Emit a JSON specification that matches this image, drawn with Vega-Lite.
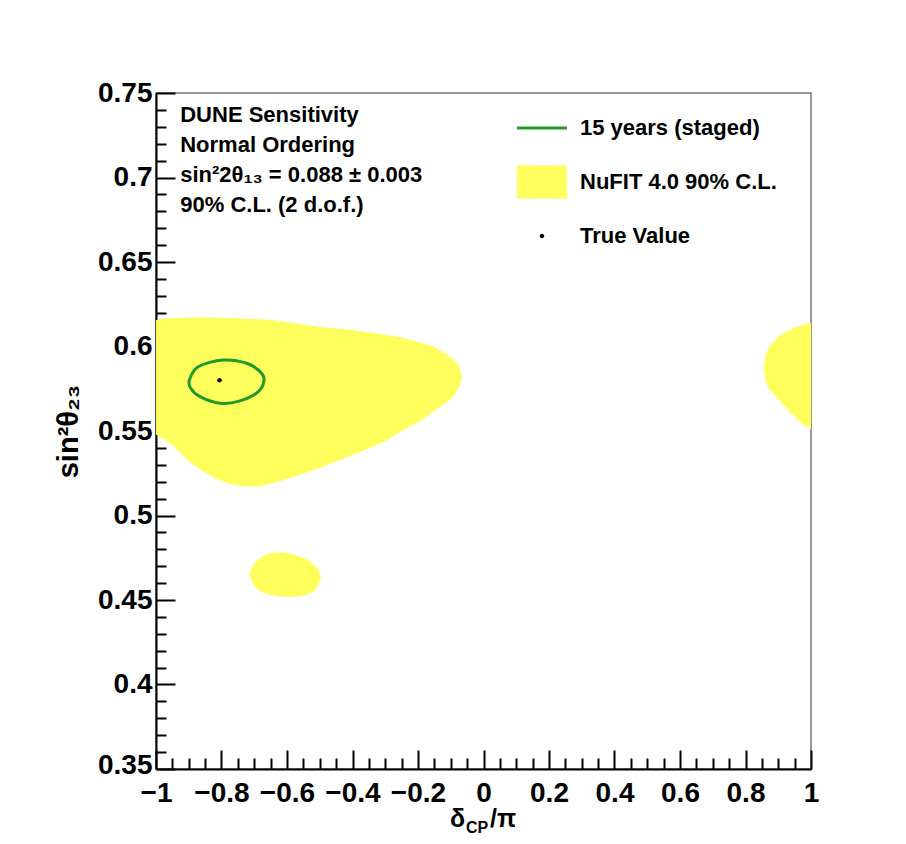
{
  "$schema": "https://vega.github.io/schema/vega-lite/v6.json",
  "width": 655,
  "height": 676,
  "autosize": {"type": "none"},
  "padding": {"left": 156, "top": 93, "right": 95, "bottom": 75},
  "background": "white",
  "config": {
    "font": "Liberation Sans",
    "view": {"stroke": "#777777", "strokeWidth": 1.5},
    "axis": {
      "domainColor": "black",
      "domainWidth": 2,
      "tickColor": "black",
      "tickWidth": 2,
      "labelColor": "black",
      "labelFont": "Liberation Sans",
      "labelFontWeight": "bold",
      "labelFontSize": 28,
      "labelOverlap": false,
      "labelFlush": false,
      "labelBound": false,
      "grid": false,
      "titleColor": "black",
      "titleFont": "Liberation Sans",
      "titleFontWeight": "bold"
    }
  },
  "datasets": {
    "regions": [
      {"region": "A", "dcp": -1.0, "top": 0.6157, "bottom": 0.548},
      {"region": "A", "dcp": -0.95, "top": 0.6168, "bottom": 0.5417},
      {"region": "A", "dcp": -0.9, "top": 0.6171, "bottom": 0.5322},
      {"region": "A", "dcp": -0.85, "top": 0.6172, "bottom": 0.5255},
      {"region": "A", "dcp": -0.8, "top": 0.617, "bottom": 0.5204},
      {"region": "A", "dcp": -0.75, "top": 0.6167, "bottom": 0.5177},
      {"region": "A", "dcp": -0.7, "top": 0.6162, "bottom": 0.5172},
      {"region": "A", "dcp": -0.65, "top": 0.6157, "bottom": 0.5188},
      {"region": "A", "dcp": -0.6, "top": 0.6145, "bottom": 0.5216},
      {"region": "A", "dcp": -0.55, "top": 0.613, "bottom": 0.5248},
      {"region": "A", "dcp": -0.5, "top": 0.6117, "bottom": 0.5281},
      {"region": "A", "dcp": -0.45, "top": 0.6106, "bottom": 0.532},
      {"region": "A", "dcp": -0.4, "top": 0.6096, "bottom": 0.5358},
      {"region": "A", "dcp": -0.35, "top": 0.6083, "bottom": 0.5398},
      {"region": "A", "dcp": -0.3, "top": 0.607, "bottom": 0.5441},
      {"region": "A", "dcp": -0.25, "top": 0.6053, "bottom": 0.55},
      {"region": "A", "dcp": -0.2, "top": 0.6025, "bottom": 0.5552},
      {"region": "A", "dcp": -0.15, "top": 0.5997, "bottom": 0.562},
      {"region": "A", "dcp": -0.12, "top": 0.5962, "bottom": 0.566},
      {"region": "A", "dcp": -0.1, "top": 0.5938, "bottom": 0.569},
      {"region": "A", "dcp": -0.085, "top": 0.5908, "bottom": 0.5725},
      {"region": "A", "dcp": -0.075, "top": 0.5884, "bottom": 0.576},
      {"region": "A", "dcp": -0.069, "top": 0.5849, "bottom": 0.579},
      {"region": "A", "dcp": -0.066, "top": 0.5818, "bottom": 0.5816},
      {"region": "B", "dcp": -0.714, "top": 0.4662, "bottom": 0.4648},
      {"region": "B", "dcp": -0.705, "top": 0.47, "bottom": 0.46},
      {"region": "B", "dcp": -0.69, "top": 0.4735, "bottom": 0.4565},
      {"region": "B", "dcp": -0.67, "top": 0.4762, "bottom": 0.4542},
      {"region": "B", "dcp": -0.65, "top": 0.4776, "bottom": 0.453},
      {"region": "B", "dcp": -0.63, "top": 0.4781, "bottom": 0.4524},
      {"region": "B", "dcp": -0.61, "top": 0.4779, "bottom": 0.452},
      {"region": "B", "dcp": -0.59, "top": 0.4773, "bottom": 0.4519},
      {"region": "B", "dcp": -0.57, "top": 0.4763, "bottom": 0.452},
      {"region": "B", "dcp": -0.55, "top": 0.4748, "bottom": 0.4526},
      {"region": "B", "dcp": -0.53, "top": 0.4727, "bottom": 0.454},
      {"region": "B", "dcp": -0.515, "top": 0.4705, "bottom": 0.456},
      {"region": "B", "dcp": -0.503, "top": 0.4675, "bottom": 0.4595},
      {"region": "B", "dcp": -0.497, "top": 0.4645, "bottom": 0.4628},
      {"region": "C", "dcp": 0.857, "top": 0.5885, "bottom": 0.586},
      {"region": "C", "dcp": 0.862, "top": 0.5945, "bottom": 0.58},
      {"region": "C", "dcp": 0.87, "top": 0.5988, "bottom": 0.5758},
      {"region": "C", "dcp": 0.885, "top": 0.6028, "bottom": 0.5722},
      {"region": "C", "dcp": 0.9, "top": 0.6057, "bottom": 0.569},
      {"region": "C", "dcp": 0.92, "top": 0.6082, "bottom": 0.5645},
      {"region": "C", "dcp": 0.94, "top": 0.6102, "bottom": 0.5605},
      {"region": "C", "dcp": 0.96, "top": 0.6118, "bottom": 0.5567},
      {"region": "C", "dcp": 0.98, "top": 0.613, "bottom": 0.5533},
      {"region": "C", "dcp": 1.0, "top": 0.614, "bottom": 0.5512}
    ],
    "contour": [
      {"k": 1, "dcp": -0.898, "s2": 0.5802},
      {"k": 2, "dcp": -0.871, "s2": 0.588},
      {"k": 3, "dcp": -0.7945, "s2": 0.592},
      {"k": 4, "dcp": -0.723, "s2": 0.5901},
      {"k": 5, "dcp": -0.6824, "s2": 0.5851},
      {"k": 6, "dcp": -0.67, "s2": 0.5802},
      {"k": 7, "dcp": -0.6876, "s2": 0.5733},
      {"k": 8, "dcp": -0.7435, "s2": 0.5678},
      {"k": 9, "dcp": -0.8046, "s2": 0.5664},
      {"k": 10, "dcp": -0.8656, "s2": 0.5703},
      {"k": 11, "dcp": -0.894, "s2": 0.5753}
    ],
    "truth": [
      {"series": "True Value", "dcp": -0.806, "s2": 0.58}
    ]
  },
  "layer": [
    {
      "data": {"name": "regions"},
      "mark": {"type": "area", "interpolate": "monotone", "color": "#fefe5c", "opacity": 1, "clip": true},
      "encoding": {
        "x": {
          "field": "dcp", "type": "quantitative",
          "scale": {"domain": [-1, 1], "nice": false, "zero": false},
          "axis": {
            "title": null,
            "tickCount": 100,
            "values": [-1, -0.95, -0.9, -0.85, -0.8, -0.75, -0.7, -0.65, -0.6, -0.55, -0.5, -0.45, -0.4, -0.35, -0.3, -0.25, -0.2, -0.15, -0.1, -0.05, 0, 0.05, 0.1, 0.15, 0.2, 0.25, 0.3, 0.35, 0.4, 0.45, 0.5, 0.55, 0.6, 0.65, 0.7, 0.75, 0.8, 0.85, 0.9, 0.95, 1],
            "labelExpr": "abs(datum.value*5 - round(datum.value*5)) < 0.001 ? format(datum.value, '.1~f') : ''",
            "tickSize": -19,
            "tickDash": {"condition": {"test": "abs(datum.value*5 - round(datum.value*5)) < 0.001", "value": [40, 1]}, "value": [11, 40]},
            "labelPadding": 29
          }
        },
        "y": {
          "field": "top", "type": "quantitative",
          "scale": {"domain": [0.35, 0.75], "nice": false, "zero": false},
          "axis": {
            "title": "sin²θ₂₃",
            "titleFontSize": 29,
            "titlePadding": 14,
            "tickCount": 100,
            "values": [0.35, 0.36, 0.37, 0.38, 0.39, 0.4, 0.41, 0.42, 0.43, 0.44, 0.45, 0.46, 0.47, 0.48, 0.49, 0.5, 0.51, 0.52, 0.53, 0.54, 0.55, 0.56, 0.57, 0.58, 0.59, 0.6, 0.61, 0.62, 0.63, 0.64, 0.65, 0.66, 0.67, 0.68, 0.69, 0.7, 0.71, 0.72, 0.73, 0.74, 0.75],
            "labelExpr": "abs(datum.value*20 - round(datum.value*20)) < 0.001 ? format(datum.value, '.2~f') : ''",
            "labelOffset": {"condition": {"test": "datum.value < 0.355", "value": -4}, "value": 0},
            "tickSize": -19,
            "tickDash": {"condition": {"test": "abs(datum.value*20 - round(datum.value*20)) < 0.001", "value": [40, 1]}, "value": [10, 40]},
            "labelPadding": 23
          }
        },
        "y2": {"field": "bottom"},
        "detail": {"field": "region", "type": "nominal"}
      }
    },
    {
      "data": {"name": "contour"},
      "mark": {"type": "line", "interpolate": "cardinal-closed", "color": "#22992b", "strokeWidth": 3, "clip": true},
      "encoding": {
        "x": {"field": "dcp", "type": "quantitative"},
        "y": {"field": "s2", "type": "quantitative"},
        "order": {"field": "k", "type": "quantitative"}
      }
    },
    {
      "data": {"name": "truth"},
      "mark": {"type": "point", "filled": true, "size": 2500, "strokeWidth": 3, "opacity": 1},
      "encoding": {
        "x": {"field": "dcp", "type": "quantitative"},
        "y": {"field": "s2", "type": "quantitative"},
        "shape": {
          "field": "series", "type": "nominal",
          "scale": {"domain": ["15 years (staged)", "NuFIT 4.0 90% C.L.", "True Value"], "range": ["M0,-0.6M0,0.6M-1,0H1", "M-0.94,-0.6H0.94V0.6H-0.94Z", "M0,-0.6M0,0.6M-0.09,0A0.09,0.09,0,1,1,0.09,0A0.09,0.09,0,1,1,-0.09,0Z"]},
          "legend": {"title": null, "orient": "none", "legendX": 359.5, "legendY": 8.5, "padding": 0, "symbolSize": 2500, "symbolStrokeWidth": 3, "symbolOpacity": 1, "labelOffset": 11.5, "rowPadding": 6, "labelLimit": 400, "labelFont": "Liberation Sans", "labelFontWeight": "bold", "labelFontSize": 22, "labelColor": "black"}
        },
        "fill": {
          "field": "series", "type": "nominal",
          "scale": {"domain": ["15 years (staged)", "NuFIT 4.0 90% C.L.", "True Value"], "range": ["transparent", "#fefe5c", "#000000"]},
          "legend": {"title": null, "orient": "none", "legendX": 359.5, "legendY": 8.5, "padding": 0, "symbolSize": 2500, "symbolStrokeWidth": 3, "symbolOpacity": 1, "labelOffset": 11.5, "rowPadding": 6, "labelLimit": 400, "labelFont": "Liberation Sans", "labelFontWeight": "bold", "labelFontSize": 22, "labelColor": "black"}
        },
        "stroke": {
          "field": "series", "type": "nominal",
          "scale": {"domain": ["15 years (staged)", "NuFIT 4.0 90% C.L.", "True Value"], "range": ["#22992b", "#fefe5c", "transparent"]},
          "legend": {"title": null, "orient": "none", "legendX": 359.5, "legendY": 8.5, "padding": 0, "symbolSize": 2500, "symbolStrokeWidth": 3, "symbolOpacity": 1, "labelOffset": 11.5, "rowPadding": 6, "labelLimit": 400, "labelFont": "Liberation Sans", "labelFontWeight": "bold", "labelFontSize": 22, "labelColor": "black"}
        }
      }
    },
    {
      "data": {"values": [{}]},
      "mark": {"type": "text", "text": ["DUNE Sensitivity", "Normal Ordering", "sin²2θ₁₃ = 0.088 ± 0.003", "90% C.L. (2 d.o.f.)"], "align": "left", "baseline": "alphabetic", "lineHeight": 30, "font": "Liberation Sans", "fontWeight": "bold", "fontSize": 22, "color": "black"},
      "encoding": {
        "x": {"datum": -0.926, "type": "quantitative"},
        "y": {"datum": 0.733, "type": "quantitative"}
      }
    },
    {
      "data": {"values": [{}]},
      "mark": {"type": "text", "text": "δ", "align": "left", "baseline": "alphabetic", "font": "Liberation Sans", "fontWeight": "bold", "fontSize": 25, "color": "black"},
      "encoding": {
        "x": {"datum": -0.1023, "type": "quantitative"},
        "y": {"datum": 0.3157, "type": "quantitative"}
      }
    },
    {
      "data": {"values": [{}]},
      "mark": {"type": "text", "text": "CP", "align": "left", "baseline": "alphabetic", "font": "Liberation Sans", "fontWeight": "bold", "fontSize": 16, "color": "black"},
      "encoding": {
        "x": {"datum": -0.0535, "type": "quantitative"},
        "y": {"datum": 0.3121, "type": "quantitative"}
      }
    },
    {
      "data": {"values": [{}]},
      "mark": {"type": "text", "text": "/π", "align": "left", "baseline": "alphabetic", "font": "Liberation Sans", "fontWeight": "bold", "fontSize": 25, "color": "black"},
      "encoding": {
        "x": {"datum": 0.0198, "type": "quantitative"},
        "y": {"datum": 0.3157, "type": "quantitative"}
      }
    }
  ]
}
